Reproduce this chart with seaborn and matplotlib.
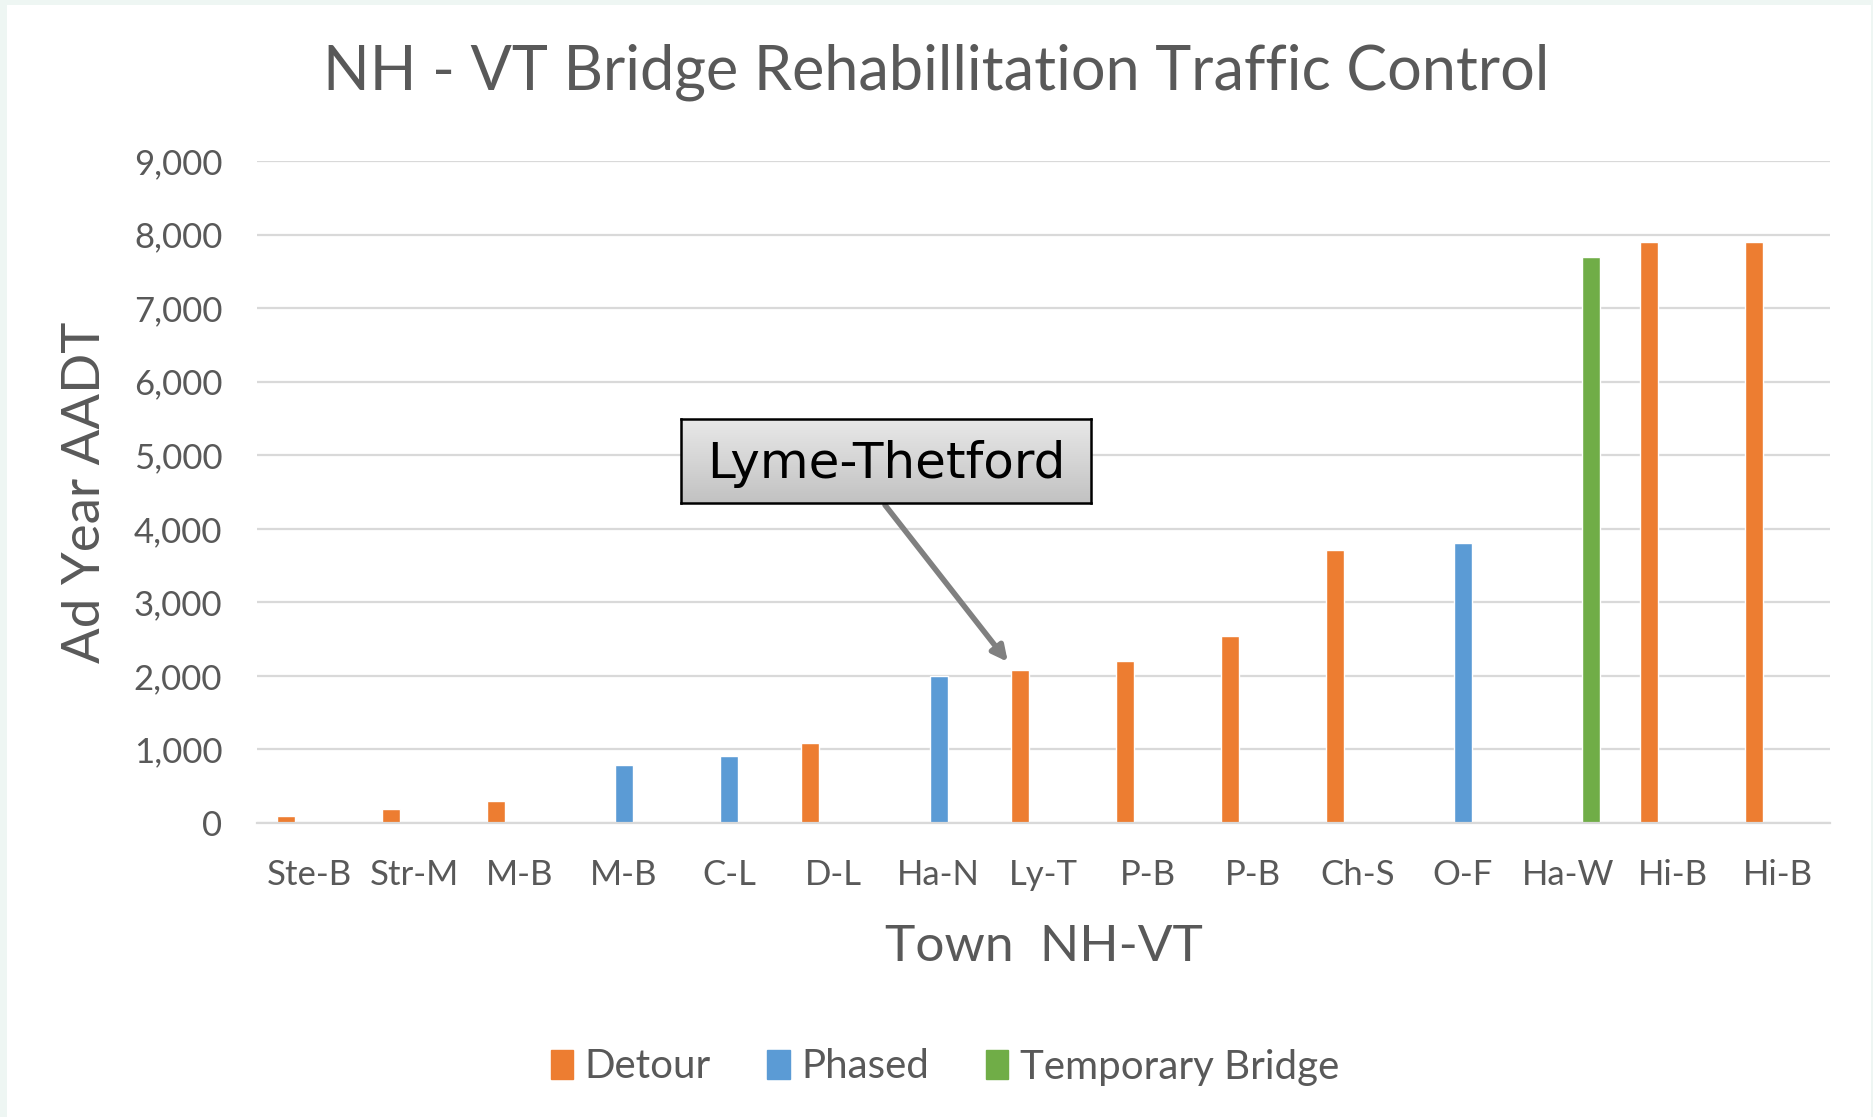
import matplotlib
matplotlib.use("Agg")
import matplotlib.pyplot as plt
import matplotlib.patches as mpatches
import seaborn as sns
import pandas as pd
import numpy as np

# --- data ---
towns = ['Ste-B', 'Str-M', 'M-B', 'M-B', 'C-L', 'D-L', 'Ha-N', 'Ly-T',
         'P-B', 'P-B', 'Ch-S', 'O-F', 'Ha-W', 'Hi-B', 'Hi-B']
aadt = [100, 190, 300, 790, 910, 1090, 2000, 2080,
        2200, 2540, 3710, 3800, 7700, 7900, 7900]
method = ['Detour', 'Detour', 'Detour', 'Phased', 'Phased', 'Detour', 'Phased', 'Detour',
          'Detour', 'Detour', 'Detour', 'Phased', 'Temporary Bridge', 'Detour', 'Detour']
methods = ['Detour', 'Phased', 'Temporary Bridge']
colors = {'Detour': '#ED7D31', 'Phased': '#5B9BD5', 'Temporary Bridge': '#70AD47'}
y_ticks = [0, 1000, 2000, 3000, 4000, 5000, 6000, 7000, 8000, 9000]

df = pd.DataFrame({'idx': range(len(towns)), 'town': towns, 'aadt': aadt, 'method': method})

# --- style ---
sns.set_style("white")
plt.rcParams['font.family'] = ['Lato', 'DejaVu Sans']
txt = '#595959'
grid = '#D9D9D9'

fig = plt.figure(figsize=(18.73, 11.17), dpi=100, facecolor='#EEF6F3')
W, H = 1873, 1117
# white card inside the light mint frame
fig.patches.append(mpatches.Rectangle((7 / W, 0), (1871 - 7) / W, (H - 5) / H,
                                      transform=fig.transFigure, facecolor='white',
                                      edgecolor='none', zorder=-10))

ax = fig.add_axes([257 / W, 1 - 823 / H, (1830 - 257) / W, (823 - 161) / H])
ax.set_facecolor('none')

sns.barplot(data=df, x='idx', y='aadt', hue='method', hue_order=methods,
            palette=colors, dodge=True, width=0.67, gap=0.24,
            saturation=1, legend=False, ax=ax)

ax.set_ylim(0, 9000)
ax.set_xlim(-0.5, len(towns) - 0.5)
ax.set_yticks(y_ticks)
ax.set_yticklabels([f'{v:,}' for v in y_ticks])
ax.set_xticks(range(len(towns)))
ax.set_xticklabels(towns)
ax.yaxis.grid(True, color=grid, linewidth=1.6)
ax.set_axisbelow(True)
for s in ['top', 'right', 'left']:
    ax.spines[s].set_visible(False)
ax.spines['bottom'].set_color(grid)
ax.spines['bottom'].set_linewidth(1.6)
ax.tick_params(axis='both', length=0, colors=txt, labelsize=25)
ax.tick_params(axis='y', pad=25)
ax.tick_params(axis='x', pad=26)

ax.set_xlabel('Town  NH-VT', fontsize=37, color=txt, labelpad=24)
ax.set_ylabel('Ad Year AADT', fontsize=38, color=txt, labelpad=18)

fig.text(936 / W, 1 - 72 / H, 'NH - VT Bridge Rehabillitation Traffic Control',
         ha='center', va='center', fontsize=44, color=txt)

# legend
handles = [mpatches.Patch(color=colors[m], label=m) for m in methods]
fig.legend(handles=handles, loc='center', bbox_to_anchor=(945 / W, 1 - 1067 / H),
           ncol=3, frameon=False, fontsize=29, handlelength=0.55, handleheight=0.75,
           handletextpad=0.3, columnspacing=1.4, labelcolor=txt)

# callout box with gradient fill
bx0, bx1, by0, by1 = 681, 1091, 419, 503
bax = fig.add_axes([bx0 / W, 1 - by1 / H, (bx1 - bx0) / W, (by1 - by0) / H])
grad = np.linspace(0.91, 0.76, 100).reshape(-1, 1)
bax.imshow(np.dstack([grad, grad, grad]), aspect='auto', extent=[0, 1, 0, 1])
bax.set_xticks([])
bax.set_yticks([])
for s in bax.spines.values():
    s.set_color('black')
    s.set_linewidth(1.8)
bax.text(0.5, 0.46, 'Lyme-Thetford', ha='center', va='center', fontsize=36,
         color='black', family=['DejaVu Sans'], transform=bax.transAxes)

# arrow from the box to the Lyme-Thetford bar
ly = towns.index('Ly-T')
ax.annotate('', xy=(ly - 0.34, aadt[ly] + 110), xycoords='data',
            xytext=(885 / W, 1 - 505 / H), textcoords='figure fraction',
            arrowprops=dict(arrowstyle='-|>,head_length=0.9,head_width=0.45',
                            color='#808080', lw=4, shrinkA=0, shrinkB=0))

fig.savefig('out.png', dpi=100, facecolor=fig.get_facecolor())
